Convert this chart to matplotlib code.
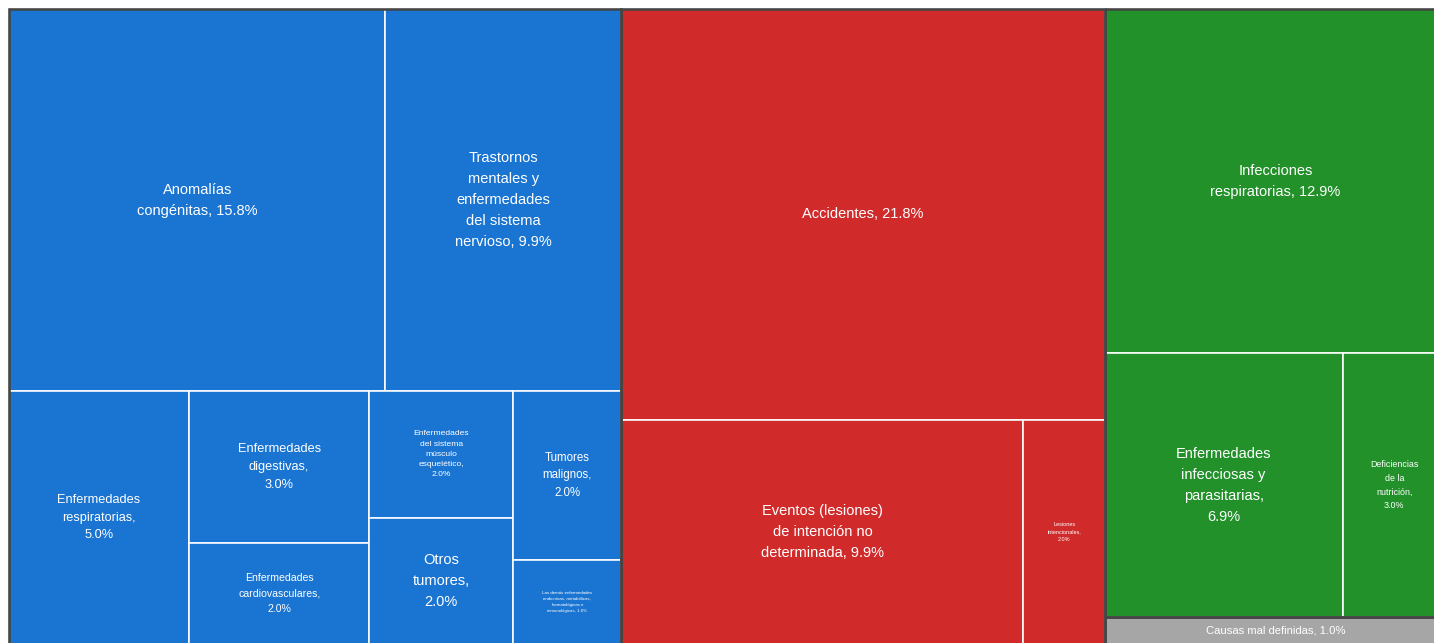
import matplotlib
matplotlib.use("Agg")
import matplotlib.pyplot as plt
from matplotlib.patches import Rectangle

# ---------------- data ----------------
blue_labels = [
    "Anomalías\ncongénitas, {:.1f}%",
    "Trastornos\nmentales y\nenfermedades\ndel sistema\nnervioso, {:.1f}%",
    "Enfermedades\nrespiratorias,\n{:.1f}%",
    "Enfermedades\ndigestivas,\n{:.1f}%",
    "Enfermedades\ncardiovasculares,\n{:.1f}%",
    "Enfermedades\ndel sistema\nmúsculo\nesquelético,\n{:.1f}%",
    "Otros\ntumores,\n{:.1f}%",
    "Tumores\nmalignos,\n{:.1f}%",
    "Las demás enfermedades\nendocrinas, metabólicas,\nhematológicas e\ninmunológicas, {:.1f}%",
]
blue_values = [15.8, 9.9, 5.0, 3.0, 2.0, 2.0, 2.0, 2.0, 1.0]

red_labels = [
    "Accidentes, {:.1f}%",
    "Eventos (lesiones)\nde intención no\ndeterminada, {:.1f}%",
    "Lesiones\nintencionales,\n{:.1f}%",
]
red_values = [21.8, 9.9, 2.0]

green_labels = [
    "Infecciones\nrespiratorias, {:.1f}%",
    "Enfermedades\ninfecciosas y\nparasitarias,\n{:.1f}%",
    "Deficiencias\nde la\nnutrición,\n{:.1f}%",
]
green_values = [12.9, 6.9, 3.0]

gray_labels = ["Causas mal definidas, {:.1f}%"]
gray_values = [1.0]

# ---------------- style ----------------
group_colors = ["#1A74D2", "#D12A2A", "#22912A", "#A6A6A6"]
font_sizes = [
    [10.5, 10.5, 9.2, 9.2, 7.6, 6.1, 10.5, 8.3, 3.2],
    [10.5, 10.5, 4.0],
    [10.5, 10.5, 6.4],
    [8.1],
]
FONT = ["Liberation Sans", "DejaVu Sans"]


def worst(row, length):
    thick = sum(row) / length
    return max(max(thick / (a / thick), (a / thick) / thick) for a in row)


def squarify(values, x, y, w, h):
    total = sum(values)
    areas = [v * w * h / total for v in values]
    rects = []
    i = 0
    while i < len(areas):
        vertical = w >= h * 0.97
        length = h if vertical else w
        row = [areas[i]]
        j = i + 1
        while j < len(areas) and worst(row + [areas[j]], length) <= worst(row, length):
            row.append(areas[j])
            j += 1
        thick = sum(row) / length
        off = 0.0
        for a in row:
            l = a / thick
            if vertical:
                rects.append((x, y + off, thick, l))
            else:
                rects.append((x + off, y, l, thick))
            off += l
        if vertical:
            x += thick
            w -= thick
        else:
            y += thick
            h -= thick
        i = j
    return rects


groups = [
    (blue_labels, blue_values),
    (red_labels, red_values),
    (green_labels, green_values),
    (gray_labels, gray_values),
]

W, H = 1437.0, 635.0
fig = plt.figure(figsize=(14.34, 6.43), dpi=100)
fig.patch.set_facecolor("white")
ax = fig.add_axes([9 / 1434, (643 - 9 - H) / 643, W / 1434, H / 643])
ax.set_xlim(0, W)
ax.set_ylim(H, 0)
ax.axis("off")

group_rects = squarify([sum(v) for _, v in groups], 0, 0, W, H)
px = 72.0 / 100.0
for gi, ((labels, values), (gx, gy, gw, gh)) in enumerate(zip(groups, group_rects)):
    leaf_rects = squarify(values, gx, gy, gw, gh)
    for li, (lab, val, (x, y, w, h)) in enumerate(zip(labels, values, leaf_rects)):
        ax.add_patch(Rectangle((x, y), w, h, facecolor=group_colors[gi],
                               edgecolor="white", linewidth=1.6 * px, zorder=1))
        ax.text(x + w / 2, y + h / 2, lab.format(val), ha="center", va="center",
                color="white", fontsize=font_sizes[gi][li], family=FONT,
                linespacing=1.65, zorder=3)
    ax.add_patch(Rectangle((gx, gy), gw, gh, facecolor="none",
                           edgecolor="#454545", linewidth=2.6 * px,
                           zorder=2, clip_on=False))

fig.savefig("out.png", dpi=100, facecolor="white")
